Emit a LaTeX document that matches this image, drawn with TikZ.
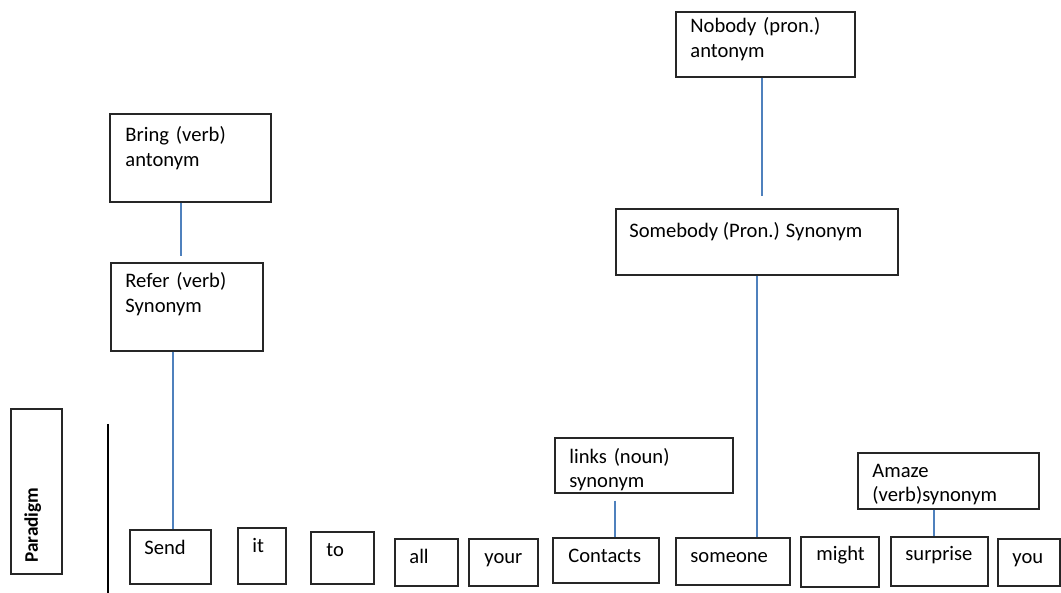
\documentclass[tikz,border=0pt]{standalone}
\usepackage{fontspec}
\setmainfont{Carlito}
\usetikzlibrary{fit}
\definecolor{linkblue}{RGB}{79,129,189}
\begin{document}
\begin{tikzpicture}[
    x=0.5pt, y=-0.5pt,
    every node/.style={font=\fontsize{10.3}{12.5}\selectfont},
    box/.style={draw=black!85, line width=0.7pt, inner sep=0pt},
    txt/.style={anchor=base west, inner sep=0pt},
    two/.style={txt, text width=#1, align=left},
    lnk/.style={linkblue, line width=0.6pt}
]
\useasboundingbox (0,0) rectangle (1061,593);
% upper boxes
\node[box, fit={(110,114) (271,202)}] (bring) {};
\node[box, fit={(111,263) (263,351)}] (refer) {};
\node[box, fit={(676,12) (855,77)}]   (nobody) {};
\node[box, fit={(616,209) (898,275)}] (somebody) {};
\node[box, fit={(555,438) (733,493)}] (links) {};
\node[box, fit={(858,453) (1039,509)}] (amaze) {};
\node[two=70pt] (bringT)    at (125,142) {Bring (verb)\\antonym};
\node[two=70pt] (referT)    at (125,288) {Refer (verb)\\Synonym};
\node[two=80pt] (nobodyT)   at (690,33)  {Nobody (pron.)\\antonym};
\node[txt]      (somebodyT) at (629,238) {Somebody (Pron.) Synonym};
\node[two=80pt] (linksT)    at (569,463) {links (noun)\\synonym};
\node[two=80pt] (amazeT)    at (872,477) {Amaze\\(verb)synonym};
% sentence row
\node[box, fit={(130,530) (211,584)}]  (send) {};
\node[box, fit={(238,528) (286,584)}]  (it) {};
\node[box, fit={(311,532) (374,584)}]  (to) {};
\node[box, fit={(395,539) (458,586)}]  (all) {};
\node[box, fit={(469,539) (538,586)}]  (your) {};
\node[box, fit={(553,538) (659,583)}]  (contacts) {};
\node[box, fit={(676,538) (790,585)}]  (someone) {};
\node[box, fit={(801,537) (879,587)}]  (might) {};
\node[box, fit={(891,537) (988,586)}]  (surprise) {};
\node[box, fit={(998,539) (1060,586)}] (you) {};
\node[txt] (sendT)     at (144,554)  {Send};
\node[txt] (itT)       at (252,552)  {it};
\node[txt] (toT)       at (326,556)  {to};
\node[txt] (allT)      at (409,563)  {all};
\node[txt] (yourT)     at (484,563)  {your};
\node[txt] (contactsT) at (568,562)  {Contacts};
\node[txt] (someoneT)  at (690,562)  {someone};
\node[txt] (mightT)    at (816,560)  {might};
\node[txt] (surpriseT) at (905,560)  {surprise};
\node[txt] (youT)      at (1012,563) {you};
% paradigm label
\node[box, fit={(11,409) (62,574)}] (paradigm) {};
\node[txt, rotate=90, font=\bfseries\fontsize{9.6}{11}\selectfont]
    (paradigmT) at (38,563) {Paradigm};
\draw[line width=0.7pt] (108,424) -- (108,593);
% links
\draw[lnk, shorten >=3pt]   (bring.south -| 181,0)    -- (refer.north -| 181,0);
\draw[lnk]                  (refer.south -| 173,0)    -- (send.north -| 173,0);
\draw[lnk, shorten >=6pt]   (nobody.south -| 762,0)   -- (somebody.north -| 762,0);
\draw[lnk]                  (somebody.south -| 757,0) -- (someone.north -| 757,0);
\draw[lnk, shorten <=3.5pt] (links.south -| 615,0)    -- (contacts.north -| 615,0);
\draw[lnk]                  (amaze.south -| 934,0)    -- (surprise.north -| 934,0);
\end{tikzpicture}
\end{document}
